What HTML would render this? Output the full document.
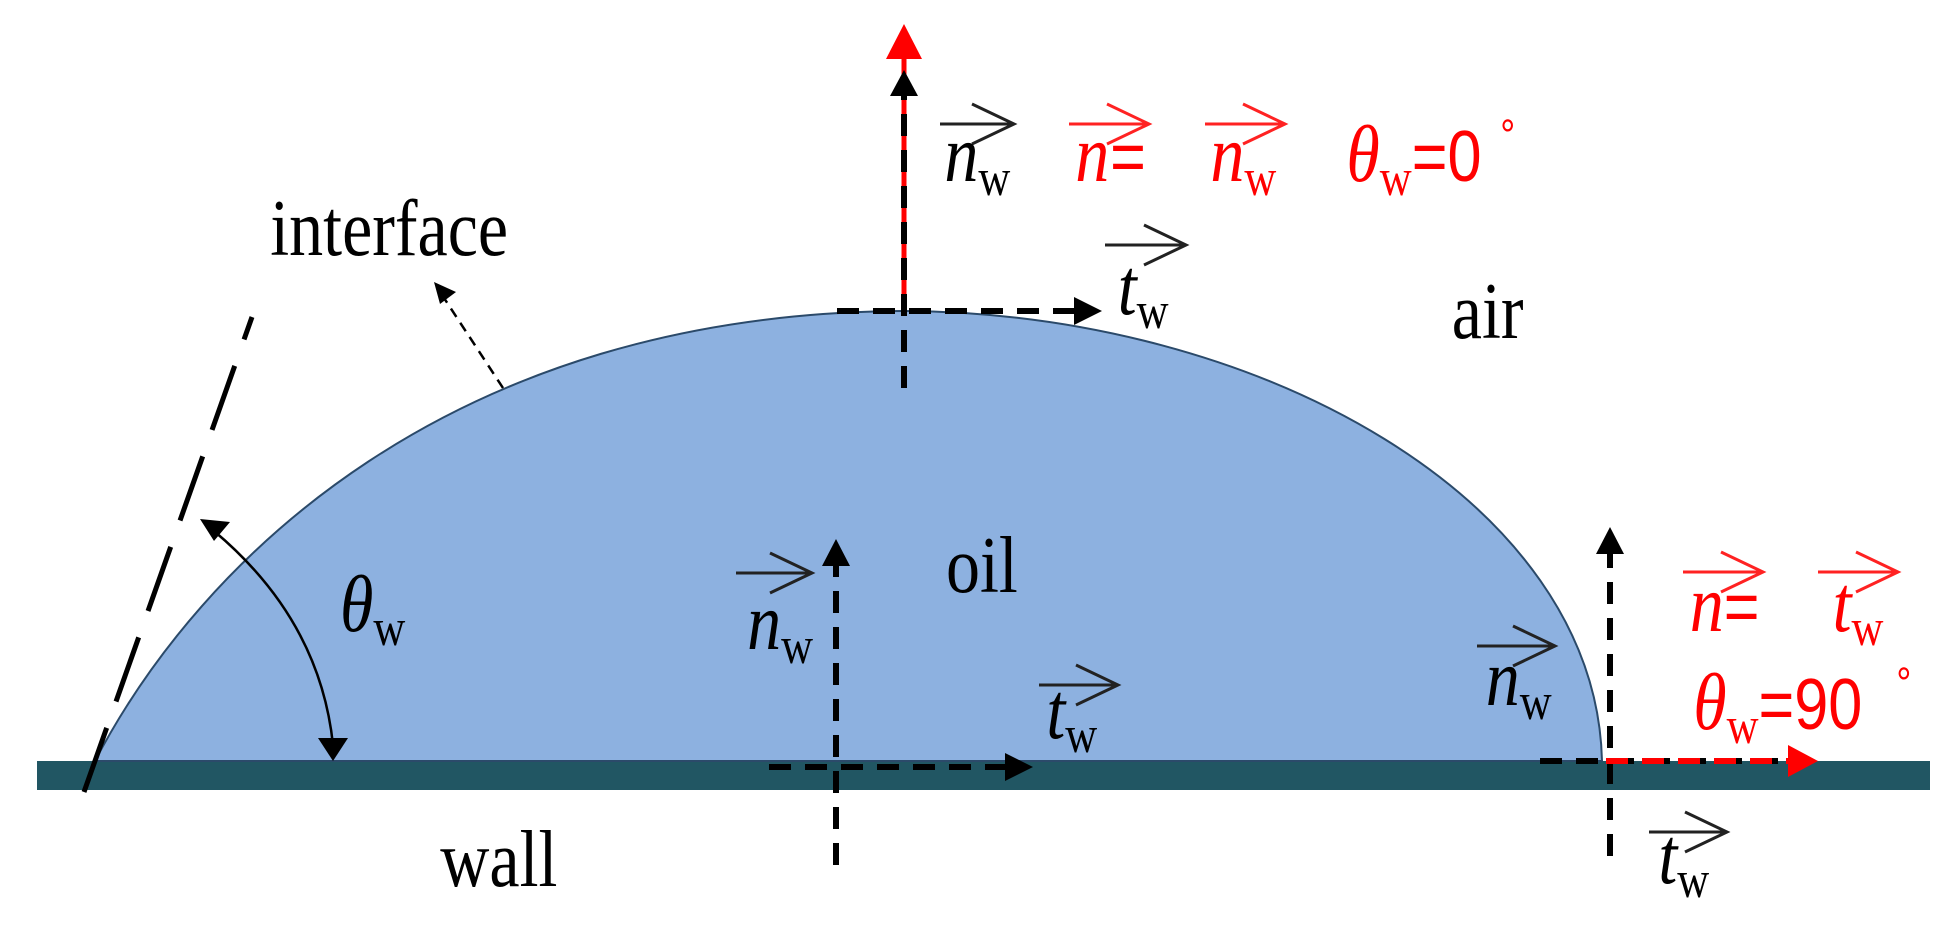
<!DOCTYPE html>
<html><head><meta charset="utf-8"><style>html,body{margin:0;padding:0;background:#fff}svg{display:block}</style></head>
<body>
<svg width="1954" height="929" viewBox="0 0 1954 929" xmlns="http://www.w3.org/2000/svg">
<!-- wall -->
<rect x="37" y="761" width="1893" height="29" fill="#215663"/>
<!-- drop -->
<path d="M95,761 C200,560 450,313 904,311 C1260,313 1596,500 1602,761 Z" fill="#8db1e0" stroke="#2b4a6a" stroke-width="2"/>
<!-- tangent dashed -->
<line x1="84" y1="792" x2="252" y2="317" stroke="#000" stroke-width="5" stroke-dasharray="68,28"/>
<!-- angle arc -->
<path d="M214,531 Q320,620 333,745" fill="none" stroke="#000" stroke-width="2.5"/>
<polygon points="200,519 230,522 214,541" fill="#000"/>
<polygon points="318,738 348,738 333,761" fill="#000"/>
<!-- interface arrow -->
<line x1="503" y1="388" x2="444" y2="298" stroke="#000" stroke-width="2.5" stroke-dasharray="10,7"/>
<polygon points="434,282 456,292 440,304" fill="#000"/>
<!-- top vertical -->
<line x1="904" y1="311" x2="904" y2="58" stroke="#f00" stroke-width="5"/>
<polygon points="904,24 886,59 922,59" fill="#f00"/>
<line x1="904" y1="388" x2="904" y2="95" stroke="#000" stroke-width="6" stroke-dasharray="22,14"/>
<polygon points="904,70 890,96 918,96" fill="#000"/>
<!-- top horizontal -->
<line x1="837" y1="311" x2="1078" y2="311" stroke="#000" stroke-width="6" stroke-dasharray="22,14"/>
<polygon points="1102,311 1074,297 1074,325" fill="#000"/>
<!-- middle -->
<line x1="836" y1="865" x2="836" y2="563" stroke="#000" stroke-width="6" stroke-dasharray="22,14"/>
<polygon points="836,539 822,566 850,566" fill="#000"/>
<line x1="769" y1="767" x2="1008" y2="767" stroke="#000" stroke-width="6" stroke-dasharray="22,14"/>
<polygon points="1033,767 1005,753 1005,781" fill="#000"/>
<!-- right -->
<line x1="1610" y1="856" x2="1610" y2="552" stroke="#000" stroke-width="6" stroke-dasharray="22,14"/>
<polygon points="1610,527 1596,554 1624,554" fill="#000"/>
<line x1="1540" y1="761" x2="1792" y2="761" stroke="#000" stroke-width="6" stroke-dasharray="22,14"/>
<line x1="1602" y1="761" x2="1792" y2="761" stroke="#f00" stroke-width="6" stroke-dasharray="22,14" stroke-dashoffset="-4"/>
<polygon points="1818,761 1788,745 1788,777" fill="#f00"/>
<!-- vector arrows over labels -->
<g fill="none" stroke-width="3">
<g stroke="#222">
<path d="M940,124 H1014 M972,104 L1014,124 L972,144"/>
<path d="M1105,245 H1186 M1144,225 L1186,245 L1144,265"/>
<path d="M736,573 H812 M770,553 L812,573 L770,593"/>
<path d="M1039,685 H1118 M1076,665 L1118,685 L1076,705"/>
<path d="M1477,646 H1555 M1513,626 L1555,646 L1513,666"/>
<path d="M1649,832 H1727 M1685,812 L1727,832 L1685,852"/>
</g>
<g stroke="#f22">
<path d="M1069,124 H1149 M1107,104 L1149,124 L1107,144"/>
<path d="M1205,124 H1285 M1243,104 L1285,124 L1243,144"/>
<path d="M1683,572 H1763 M1721,552 L1763,572 L1721,592"/>
<path d="M1818,572 H1898 M1856,552 L1898,572 L1856,592"/>
</g>
</g>
<!-- text (horizontally compressed) -->
<g transform="scale(0.85,1)" font-family="Liberation Serif, serif" font-size="80" fill="#000">
<text x="318" y="255">interface</text>
<text x="1708" y="338">air</text>
<text x="1113" y="592">oil</text>
<text x="518" y="886">wall</text>
<text x="400" y="631"><tspan font-style="italic">θ</tspan><tspan font-size="52" dy="14">w</tspan></text>
<text x="1111" y="181"><tspan font-style="italic">n</tspan><tspan font-size="52" dy="14">w</tspan></text>
<text x="1315" y="314"><tspan font-style="italic">t</tspan><tspan font-size="52" dy="14">w</tspan></text>
<text x="879" y="649"><tspan font-style="italic">n</tspan><tspan font-size="52" dy="14">w</tspan></text>
<text x="1231" y="738"><tspan font-style="italic">t</tspan><tspan font-size="52" dy="14">w</tspan></text>
<text x="1748" y="705"><tspan font-style="italic">n</tspan><tspan font-size="52" dy="14">w</tspan></text>
<text x="1951" y="883"><tspan font-style="italic">t</tspan><tspan font-size="52" dy="14">w</tspan></text>
<g fill="#f00" font-family="Liberation Sans, sans-serif">
<text x="1265" y="181" font-family="Liberation Serif, serif" font-style="italic">n</text>
<text x="1306" y="181" font-size="72">=</text>
<text x="1424" y="181"><tspan font-family="Liberation Serif, serif" font-style="italic">n</tspan><tspan font-family="Liberation Serif, serif" font-size="52" dy="14">w</tspan></text>
<text x="1584" y="181"><tspan font-family="Liberation Serif, serif" font-style="italic">θ</tspan><tspan font-family="Liberation Serif, serif" font-size="52" dy="14">w</tspan><tspan dy="-14" font-size="72">=0</tspan></text>
<text x="1765" y="150" font-size="44">°</text>
<text x="1988" y="631" font-family="Liberation Serif, serif" font-style="italic">n</text>
<text x="2028" y="631" font-size="72">=</text>
<text x="2156" y="631"><tspan font-family="Liberation Serif, serif" font-style="italic">t</tspan><tspan font-family="Liberation Serif, serif" font-size="52" dy="14">w</tspan></text>
<text x="1992" y="729"><tspan font-family="Liberation Serif, serif" font-style="italic">θ</tspan><tspan font-family="Liberation Serif, serif" font-size="52" dy="14">w</tspan><tspan dy="-14" font-size="72">=90</tspan></text>
<text x="2231" y="698" font-size="44">°</text>
</g>
</g>
</svg>
</body></html>
